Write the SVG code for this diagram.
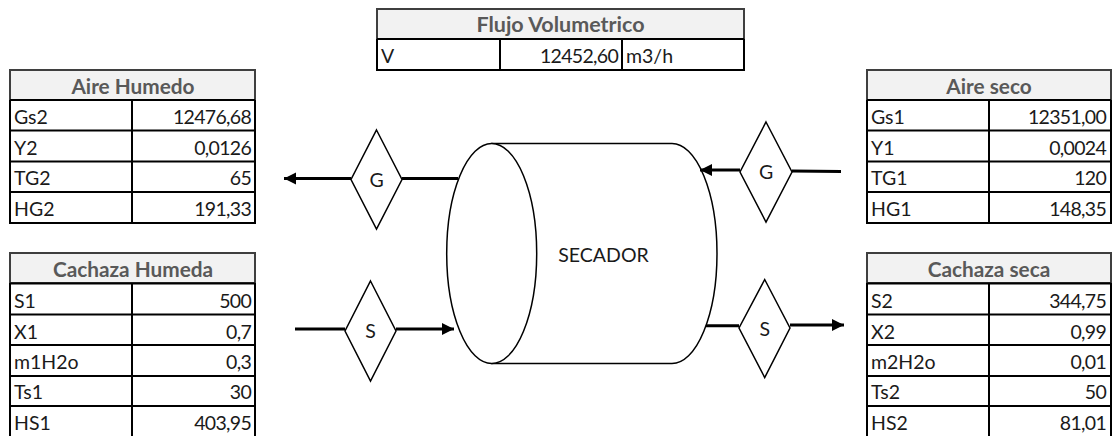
<svg xmlns="http://www.w3.org/2000/svg" width="1113" height="436" viewBox="0 0 1113 436">
<style>
text{font-family:"Lato","Liberation Sans",sans-serif;font-size:19.5px;fill:#1a1a1a}
.h{font-weight:700;font-size:20.8px;fill:#595959;text-anchor:middle}
.r{text-anchor:end;letter-spacing:-.7px}
.m{text-anchor:middle}
.hd{fill:#f2f2f2;stroke:#3f3f3f;stroke-width:2}
.g{stroke:#000;stroke-width:2;fill:none}
.s{fill:#fff;stroke:#000;stroke-width:1.5}
.c{stroke:#000;stroke-width:3;fill:none}
</style>
<defs>
<marker id="a" markerUnits="userSpaceOnUse" markerWidth="13" markerHeight="13" refX="12" refY="6" orient="auto"><path d="M0,0L12,6L0,12Z" fill="#000"/></marker>
</defs>
<rect width="1113" height="436" fill="#fff"/>
<g id="secador">
<path class="s" d="M492,143.500H672A45,110 0 0 1 672,363.500H492Z"/>
<ellipse class="s" cx="491.700" cy="253.500" rx="45" ry="110"/>
<text x="603.500" y="262" class="m">SECADOR</text>
</g>
<g id="conectores">
<path class="c" d="M351,178.500H284" marker-end="url(#a)"/>
<path class="c" d="M402,178.500H458"/>
<path class="c" d="M295,329H345"/>
<path class="c" d="M396,329H454" marker-end="url(#a)"/>
<path class="c" d="M792,171L841,171.500"/>
<path class="c" d="M740,170H700" marker-end="url(#a)"/>
<path class="c" d="M706,325.700H739"/>
<path class="c" d="M790,325H844" marker-end="url(#a)"/>
</g>
<g id="g-izq"><path class="s" d="M376.500,130L402,179.500L376.500,229L351,179.500Z"/><text x="376.500" y="187" class="m">G</text></g>
<g id="s-izq"><path class="s" d="M370.500,281L396,331L370.500,381L345,331Z"/><text x="370.500" y="338" class="m">S</text></g>
<g id="g-der"><path class="s" d="M766,122L792,172L766,222L740,172Z"/><text x="766" y="179" class="m">G</text></g>
<g id="s-der"><path class="s" d="M764.700,279.500L790,328L764.700,377.500L739,328Z"/><text x="764.700" y="336" class="m">S</text></g>
<g id="flujo">
<rect class="hd" x="377" y="9" width="367" height="30"/>
<path class="g" d="M377,39V70H744V39M377,39H744M500,39V70M622,39V70"/>
<text x="560.500" y="32" class="h" style="font-size:21.5px">Flujo Volumetrico</text>
<text x="381" y="63">V</text>
<text x="618" y="63" class="r">12452,60</text>
<text x="626" y="63">m3/h</text>
</g>
<g id="aire-humedo">
<rect class="hd" x="10" y="70" width="245" height="30"/>
<path class="g" d="M10,100V223H255V100M10,100H255M10,130.500H255M10,161.500H255M10,192H255M132,100V223"/>
<text x="133" y="94" class="h">Aire Humedo</text>
<text x="14" y="124">Gs2</text><text x="251" y="124" class="r">12476,68</text>
<text x="14" y="155">Y2</text><text x="251" y="155" class="r">0,0126</text>
<text x="14" y="185">TG2</text><text x="251" y="185" class="r">65</text>
<text x="14" y="216">HG2</text><text x="251" y="216" class="r">191,33</text>
</g>
<g id="cachaza-humeda">
<rect class="hd" x="10" y="253" width="245" height="30"/>
<path class="g" d="M10,283V436M255,283V436M10,283.500H255M10,314.500H255M10,345H255M10,376H255M10,406H255M132,283V436"/>
<text x="133" y="277" class="h">Cachaza Humeda</text>
<text x="14" y="308">S1</text><text x="251" y="308" class="r">500</text>
<text x="14" y="339">X1</text><text x="251" y="339" class="r">0,7</text>
<text x="14" y="369">m1H2o</text><text x="251" y="369" class="r">0,3</text>
<text x="14" y="399">Ts1</text><text x="251" y="399" class="r">30</text>
<text x="14" y="430">HS1</text><text x="251" y="430" class="r">403,95</text>
</g>
<g id="aire-seco">
<rect class="hd" x="867" y="70" width="244" height="30"/>
<path class="g" d="M867,100V223H1111V100M867,100H1111M867,130.500H1111M867,161.500H1111M867,192H1111M989,100V223"/>
<text x="989" y="94" class="h">Aire seco</text>
<text x="871" y="124">Gs1</text><text x="1106" y="124" class="r">12351,00</text>
<text x="871" y="155">Y1</text><text x="1106" y="155" class="r">0,0024</text>
<text x="871" y="185">TG1</text><text x="1106" y="185" class="r">120</text>
<text x="871" y="216">HG1</text><text x="1106" y="216" class="r">148,35</text>
</g>
<g id="cachaza-seca">
<rect class="hd" x="867" y="253" width="244" height="30"/>
<path class="g" d="M867,283V436M1111,283V436M867,283.500H1111M867,314.500H1111M867,345H1111M867,376H1111M867,406H1111M989,283V436"/>
<text x="989" y="277" class="h">Cachaza seca</text>
<text x="871" y="308">S2</text><text x="1106" y="308" class="r">344,75</text>
<text x="871" y="339">X2</text><text x="1106" y="339" class="r">0,99</text>
<text x="871" y="369">m2H2o</text><text x="1106" y="369" class="r">0,01</text>
<text x="871" y="399">Ts2</text><text x="1106" y="399" class="r">50</text>
<text x="871" y="430">HS2</text><text x="1106" y="430" class="r">81,01</text>
</g>
</svg>
